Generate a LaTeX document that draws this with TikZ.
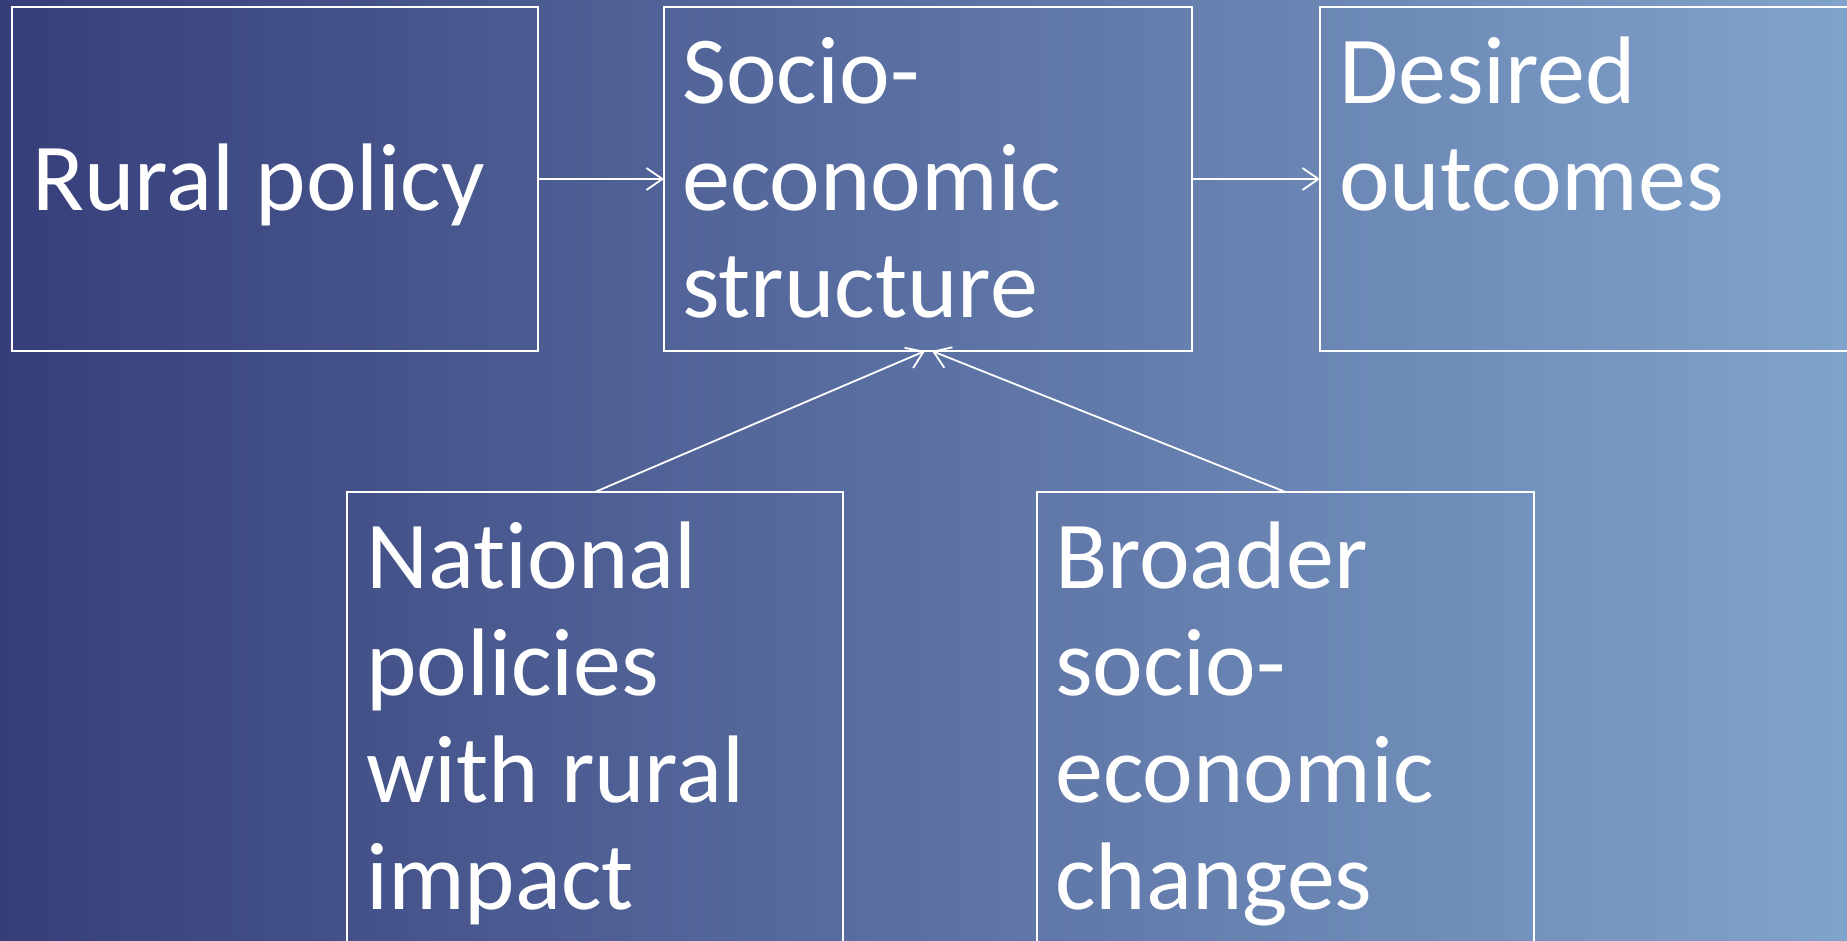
\documentclass[tikz,border=0pt]{standalone}
\usepackage{fontspec}
\setmainfont{Carlito}[Ligatures=NoCommon]
\usetikzlibrary{arrows.meta,calc}
\definecolor{bgL}{RGB}{54,62,122}
\definecolor{bgR}{RGB}{128,163,203}
\begin{document}
\begin{tikzpicture}[x=1pt,y=-1pt,
  boxline/.style={draw=white,line width=1.8pt,rectangle,inner sep=0pt,outer sep=0pt,anchor=north west},
  lbl/.style={text=white,font=\fontsize{96}{107}\selectfont,align=left,anchor=base west,inner sep=0pt},
  conn/.style={draw=white,line width=1.8pt,-{Straight Barb[length=16pt,width=22pt,line width=1.8pt]}}]
\useasboundingbox (0,0) rectangle (1847,940);
\clip (0,0) rectangle (1847,940);
\fill[left color=bgL,right color=bgR] (0,0) rectangle (1847,940);
% boxes
\node[boxline,minimum width=526pt,minimum height=344pt] (rural) at (12,7) {};
\node[boxline,minimum width=528pt,minimum height=344pt] (socio) at (664,7) {};
\node[boxline,minimum width=560pt,minimum height=344pt] (desired) at (1320,7) {};
\node[boxline,minimum width=496pt,minimum height=480pt] (national) at (347,492) {};
\node[boxline,minimum width=497pt,minimum height=480pt] (broader) at (1037,492) {};
% labels (anchor: baseline of the last line)
\node[lbl] (ruralT) at (32,210) {Rural policy};
\node[lbl] (socioT) at (682,317) {Socio-\\economic\\structure};
\node[lbl] (desiredT) at (1339,210) {Desired\\outcomes};
\node[lbl] (nationalT) at (366,909) {National\\policies\\with rural\\impact};
\node[lbl] (broaderT) at (1055,909) {Broader\\socio-\\economic\\changes};
% connectors
\draw[conn] (rural.east) -- (socio.west);
\draw[conn] (socio.east) -- (desired.west);
\draw[conn] (national.north) -- ($(socio.south)+(-3,0)$);
\draw[conn] (broader.north) -- ($(socio.south)+(4,0)$);
\end{tikzpicture}
\end{document}
